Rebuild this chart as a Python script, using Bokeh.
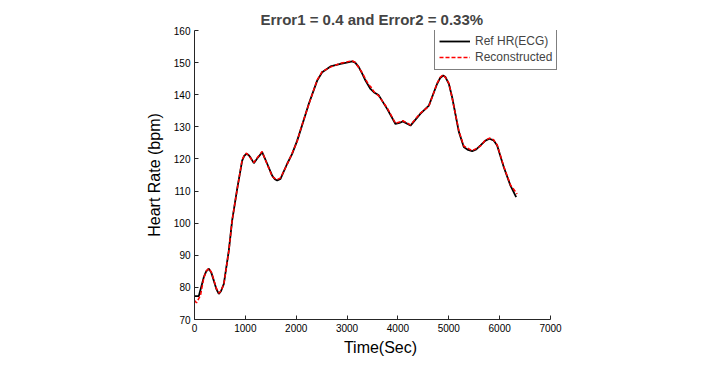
from bokeh.plotting import figure
from bokeh.models import Legend, LegendItem, FixedTicker
from bokeh.embed import file_html
from bokeh.resources import INLINE

title_text = "Error1 = 0.4 and Error2 = 0.33%"
x_label = "Time(Sec)"
y_label = "Heart Rate (bpm)"
ref_name = "Ref HR(ECG)"
rec_name = "Reconstructed"

ref_t = [0, 85, 140, 183, 230, 282, 330, 380, 430, 478, 520, 577, 675, 740, 839, 937, 980,
         1022, 1060, 1100, 1167, 1250, 1330, 1429, 1527, 1580, 1626, 1691, 1822, 1920, 2019,
         2084, 2248, 2412, 2510, 2674, 2871, 2990, 3100, 3160, 3231, 3300, 3362, 3460, 3526,
         3624, 3788, 3952, 4030, 4097, 4247, 4444, 4608, 4771, 4830, 4889, 4935, 5001, 5066,
         5197, 5295, 5380, 5459, 5540, 5623, 5720, 5800, 5880, 5951, 6082, 6213, 6325]
ref_hr = [77.3, 77.3, 80.6, 83.2, 85.0, 85.8, 84.6, 82.1, 79.5, 78.0, 78.8, 81.1, 91.5, 100.8,
          110.7, 119.5, 121.0, 121.6, 121.3, 120.5, 118.7, 120.5, 122.1, 118.5, 114.8, 113.7,
          113.3, 113.8, 118.5, 121.6, 125.7, 128.9, 137.2, 144.4, 147.0, 148.8, 149.6, 150.0,
          150.4, 150.0, 148.6, 146.5, 144.4, 141.8, 140.8, 139.8, 135.6, 130.9, 131.2, 131.7,
          130.4, 134.1, 136.6, 143.4, 145.2, 146.0, 145.5, 143.4, 139.2, 128.5, 123.7, 122.8,
          122.4, 123.0, 124.2, 125.7, 126.3, 125.8, 124.2, 117.4, 111.7, 108.1]

rec_t = [0, 39, 118, 183, 230, 282, 330, 380, 430, 478, 520, 577, 675, 740, 839, 937, 980,
         1022, 1060, 1100, 1167, 1250, 1330, 1429, 1527, 1580, 1626, 1691, 1822, 1920, 2019,
         2084, 2248, 2412, 2510, 2674, 2871, 2990, 3100, 3160, 3231, 3300, 3362, 3420, 3470,
         3526, 3624, 3788, 3952, 4030, 4097, 4247, 4444, 4608, 4771, 4830, 4889, 4935, 5001,
         5066, 5197, 5295, 5380, 5459, 5540, 5623, 5720, 5800, 5880, 5951, 6082, 6213, 6344]
rec_hr = [75.9, 75.2, 77.5, 83.0, 85.1, 85.9, 84.8, 82.3, 79.7, 78.2, 78.9, 81.0, 91.3, 100.9,
          110.5, 119.7, 121.2, 121.8, 121.1, 120.3, 118.9, 120.7, 122.3, 118.3, 114.6, 113.9,
          113.6, 114.1, 118.3, 121.8, 125.5, 129.1, 137.0, 144.6, 147.2, 148.6, 149.8, 150.2,
          150.6, 150.1, 148.4, 146.8, 144.9, 143.2, 142.4, 141.0, 139.6, 135.9, 131.1, 131.5,
          131.9, 130.6, 134.3, 136.4, 143.6, 145.4, 146.2, 145.3, 143.6, 139.0, 128.8, 124.0,
          123.3, 122.6, 123.2, 124.0, 125.9, 126.5, 126.0, 124.4, 117.6, 111.9, 109.1]

x_ticks = [0, 1000, 2000, 3000, 4000, 5000, 6000, 7000]
y_ticks = [70, 80, 90, 100, 110, 120, 130, 140, 150, 160]
x_axis_end = 7000

frame_left, frame_right_axis, frame_right = 194, 550, 566
x_view_end = x_axis_end * (frame_right - frame_left) / (frame_right_axis - frame_left)

p = figure(width=715, height=366, output_backend="svg", toolbar_location=None,
           x_range=(0, x_view_end), y_range=(70, 160),
           min_border_left=frame_left, min_border_right=715 - frame_right,
           min_border_top=30, min_border_bottom=47)
p.title.text = title_text
p.title.align = "left"
p.title.text_font = "Liberation Sans"
p.title.text_font_style = "bold"
p.title.text_font_size = "15px"
p.title.offset = 66
p.title.standoff = 6

p.outline_line_color = None
p.xgrid.visible = False
p.ygrid.visible = False
p.background_fill_color = "white"
p.border_fill_color = "white"

for ax, ticks in ((p.xaxis[0], x_ticks), (p.yaxis[0], y_ticks)):
    ax.ticker = FixedTicker(ticks=ticks)
    ax.major_tick_in = 4
    ax.major_tick_out = 0
    ax.minor_tick_line_color = None
    ax.axis_line_color = "#262626"
    ax.major_tick_line_color = "#262626"
    ax.major_label_text_font = "Liberation Sans"
    ax.major_label_text_font_size = "10px"
    ax.major_label_text_color = "#000000"
    ax.axis_label_text_font = "Liberation Sans"
    ax.axis_label_text_font_size = "16px"
    ax.axis_label_text_font_style = "normal"
    ax.axis_label_text_color = "#000000"

p.xaxis.bounds = (0, x_axis_end)
p.xaxis.axis_label = x_label
p.yaxis.axis_label = y_label
p.xaxis.major_label_standoff = 4
p.yaxis.major_label_standoff = 4
p.xaxis.axis_label_standoff = 4
p.yaxis.axis_label_standoff = 8

r1 = p.line(ref_t, ref_hr, line_color="black", line_width=1.8)
r2 = p.line(rec_t, rec_hr, line_color="#ff0000", line_width=1.5, line_dash="4 2")

legend = Legend(items=[LegendItem(label=ref_name, renderers=[r1]),
                       LegendItem(label=rec_name, renderers=[r2])],
                location=(240, 249))
legend.border_line_color = "black"
legend.border_line_width = 1
legend.background_fill_color = "white"
legend.background_fill_alpha = 1
legend.label_text_font = "Liberation Sans"
legend.label_text_font_size = "12px"
legend.glyph_width = 31
legend.glyph_height = 16
legend.label_height = 16
legend.label_standoff = 5
legend.padding = 4
legend.spacing = 0
legend.margin = 0
legend.label_text_baseline = "middle"
p.add_layout(legend, "center")

open("out.html", "w").write(file_html(p, INLINE))
